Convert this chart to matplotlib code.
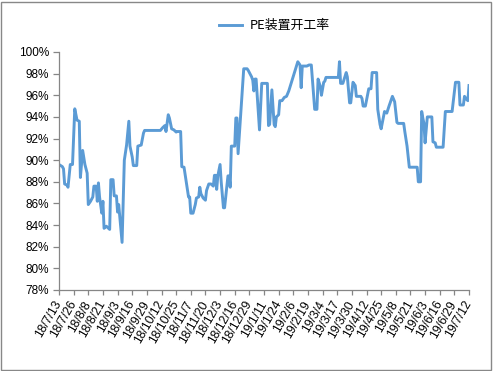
import matplotlib
matplotlib.use("Agg")
import matplotlib.pyplot as plt
import pandas as pd
from matplotlib.patches import Rectangle

dates = [
    "2018-07-13", "2018-07-16", "2018-07-17", "2018-07-18", "2018-07-20", "2018-07-21",
    "2018-07-23", "2018-07-25", "2018-07-27", "2018-07-29", "2018-07-31", "2018-08-01",
    "2018-08-03", "2018-08-05", "2018-08-07", "2018-08-08", "2018-08-10", "2018-08-12",
    "2018-08-13", "2018-08-15", "2018-08-16", "2018-08-17", "2018-08-18", "2018-08-20",
    "2018-08-21", "2018-08-22", "2018-08-24", "2018-08-26", "2018-08-27", "2018-08-28",
    "2018-08-30", "2018-08-31", "2018-09-02", "2018-09-03", "2018-09-04", "2018-09-07",
    "2018-09-09", "2018-09-11", "2018-09-13", "2018-09-14", "2018-09-16", "2018-09-17",
    "2018-09-20", "2018-09-21", "2018-09-24", "2018-09-26", "2018-09-27", "2018-10-01",
    "2018-10-06", "2018-10-11", "2018-10-13", "2018-10-15", "2018-10-16", "2018-10-18",
    "2018-10-19", "2018-10-21", "2018-10-23", "2018-10-25", "2018-10-26", "2018-10-29",
    "2018-10-30", "2018-11-01", "2018-11-03", "2018-11-05", "2018-11-06", "2018-11-07",
    "2018-11-09", "2018-11-11", "2018-11-12", "2018-11-14", "2018-11-15", "2018-11-16",
    "2018-11-18", "2018-11-20", "2018-11-21", "2018-11-23", "2018-11-25", "2018-11-27",
    "2018-11-28", "2018-11-29", "2018-11-30", "2018-12-01", "2018-12-03", "2018-12-04",
    "2018-12-06", "2018-12-07", "2018-12-10", "2018-12-11", "2018-12-12", "2018-12-13",
    "2018-12-16", "2018-12-17", "2018-12-18", "2018-12-19", "2018-12-24", "2018-12-27",
    "2018-12-28", "2018-12-31", "2019-01-01", "2019-01-02", "2019-01-03", "2019-01-04",
    "2019-01-07", "2019-01-09", "2019-01-14", "2019-01-15", "2019-01-16", "2019-01-18",
    "2019-01-20", "2019-01-21", "2019-01-22", "2019-01-24", "2019-01-25", "2019-01-27",
    "2019-01-29", "2019-01-31", "2019-02-02", "2019-02-10", "2019-02-12", "2019-02-13",
    "2019-02-14", "2019-02-18", "2019-02-20", "2019-02-22", "2019-02-25", "2019-02-27",
    "2019-02-28", "2019-03-02", "2019-03-03", "2019-03-05", "2019-03-06", "2019-03-07",
    "2019-03-15", "2019-03-18", "2019-03-19", "2019-03-20", "2019-03-22", "2019-03-25",
    "2019-03-26", "2019-03-28", "2019-03-29", "2019-03-31", "2019-04-02", "2019-04-03",
    "2019-04-07", "2019-04-08", "2019-04-09", "2019-04-11", "2019-04-14", "2019-04-16",
    "2019-04-17", "2019-04-21", "2019-04-22", "2019-04-24", "2019-04-25", "2019-04-28",
    "2019-04-30", "2019-05-02", "2019-05-04", "2019-05-05", "2019-05-07", "2019-05-09",
    "2019-05-10", "2019-05-15", "2019-05-16", "2019-05-18", "2019-05-20", "2019-05-24",
    "2019-05-27", "2019-05-28", "2019-05-30", "2019-05-31", "2019-06-01", "2019-06-02",
    "2019-06-03", "2019-06-05", "2019-06-09", "2019-06-10", "2019-06-12", "2019-06-13",
    "2019-06-19", "2019-06-21", "2019-06-27", "2019-06-30", "2019-07-03", "2019-07-04",
    "2019-07-07", "2019-07-08", "2019-07-10", "2019-07-11", "2019-07-12",
]

pe_rate = [
    89.6, 89.4, 89.2, 87.8, 87.7, 87.5,
    89.6, 89.6, 94.75, 93.7, 93.6, 88.4,
    90.9, 89.6, 88.8, 85.9, 86.2, 86.6,
    87.6, 87.6, 86.2, 87.9, 86.6, 85.1,
    86.2, 83.7, 83.9, 83.7, 83.6, 88.2,
    88.2, 86.7, 86.7, 85.2, 85.9, 82.4,
    90.0, 91.4, 93.6, 91.3, 90.3, 89.5,
    89.5, 91.3, 91.4, 92.5, 92.75, 92.75,
    92.75, 92.75, 93.0, 93.2, 92.65, 94.2,
    93.9, 92.9, 92.8, 92.6, 92.65, 92.65,
    89.4, 89.35, 88.0, 86.6, 86.6, 85.1,
    85.1, 85.9, 86.5, 86.6, 87.5, 86.9,
    86.5, 86.3, 87.2, 87.8, 87.8, 87.6,
    88.6, 88.6, 87.3, 88.55, 89.6, 88.0,
    85.6, 85.6, 88.55, 88.55, 87.5, 91.3,
    91.3, 93.9, 93.9, 90.6, 98.45, 98.45,
    98.3, 97.7, 97.4, 96.4, 97.5, 97.5,
    92.8, 97.1, 97.1, 93.2, 93.3, 96.5,
    93.3, 93.1, 94.0, 94.2, 95.5, 95.5,
    95.8, 95.9, 96.4, 99.1, 98.8, 96.7,
    98.7, 98.7, 98.8, 98.8, 94.7, 94.7,
    97.5, 96.8, 96.0, 97.2, 97.3, 97.65,
    97.65, 97.65, 99.1, 97.1, 97.1, 98.1,
    97.7, 95.3, 95.3, 97.2, 96.9, 95.9,
    95.9, 95.7, 95.0, 95.0, 96.6, 96.6,
    98.1, 98.1, 94.7, 93.3, 92.9, 94.5,
    94.35, 95.0, 95.6, 95.9, 95.4, 93.5,
    93.4, 93.4, 92.65, 91.3, 89.35, 89.35,
    89.35, 88.0, 88.0, 94.5, 93.9, 93.4,
    91.6, 94.0, 94.0, 91.7, 91.6, 91.2,
    91.2, 94.5, 94.5, 97.2, 97.2, 95.1,
    95.1, 95.9, 95.6, 95.5, 96.9,
]

series_name = "PE装置开工率"
x_start = "2018-07-13"
x_end = "2019-07-12"
tick_step_days = 13
y_ticks = [78, 80, 82, 84, 86, 88, 90, 92, 94, 96, 98, 100]

plt.rcParams['font.family'] = ['Liberation Sans', 'Noto Sans CJK SC', 'DejaVu Sans']

W, H = 493, 371
fig = plt.figure(figsize=(W / 100, H / 100), dpi=100)
fig.patch.set_facecolor("white")

ax = fig.add_axes([59 / W, 1 - 290 / H, (469 - 59) / W, (290 - 52) / H])

x = pd.to_datetime(dates)
line, = ax.plot(x, pe_rate, color="#5B9BD5", linewidth=2.1, label=series_name,
                solid_joinstyle="round")

ax.set_ylim(y_ticks[0], y_ticks[-1])
ax.set_yticks(y_ticks)
ax.set_yticklabels([f"{v}%" for v in y_ticks])

xt = pd.date_range(x_start, x_end, freq=f"{tick_step_days}D")
ax.set_xlim(pd.Timestamp(x_start), pd.Timestamp(x_end))
ax.set_xticks(xt)
ax.set_xticklabels([f"{d.year % 100}/{d.month}/{d.day}" for d in xt],
                   rotation=60, ha="right", va="center", rotation_mode="anchor")

for s in ["top", "right"]:
    ax.spines[s].set_visible(False)
for s in ["left", "bottom"]:
    ax.spines[s].set_color("#868686")
    ax.spines[s].set_linewidth(0.9)
ax.tick_params(axis="y", direction="out", length=4, width=0.9, color="#868686",
               labelsize=8.5, pad=3, labelcolor="black")
ax.tick_params(axis="x", direction="out", length=3.5, width=0.9, color="#868686",
               labelsize=8.7, pad=5, labelcolor="black")

fig.legend(handles=[line], loc="center", bbox_to_anchor=(274.5 / W, 1 - 25.7 / H),
           frameon=False, prop={"family": ["Noto Sans CJK SC"], "size": 9.3},
           handlelength=1.8, handletextpad=0.6)

fig.patches.append(Rectangle((1 / W, 1 / H), (W - 3) / W, (H - 3) / H,
                             transform=fig.transFigure, fill=False,
                             edgecolor="#888888", linewidth=1.0))

fig.savefig("out.png", dpi=100)
